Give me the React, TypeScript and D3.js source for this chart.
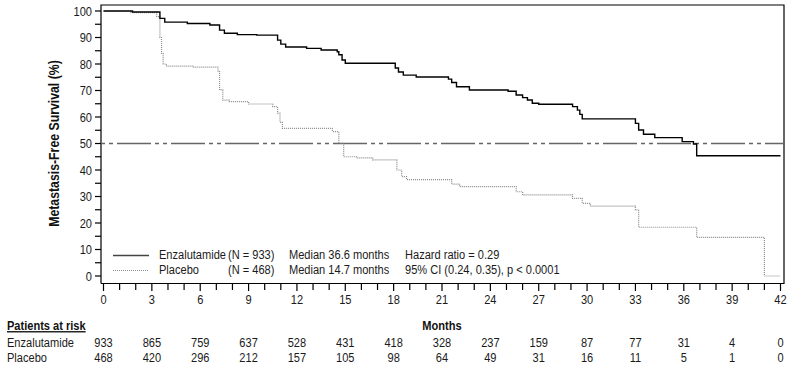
import { useEffect, useRef } from 'react';
import * as d3 from 'd3';

// Kaplan-Meier steps (months, % metastasis-free)
const enzaMonths = [0, 1.8, 3.5, 3.8, 5.2, 6.6, 7.2, 7.5, 8.3, 9.5, 10.8, 11.0, 11.3, 12.6, 13.5, 14.5, 14.6, 14.8, 15.0, 18.1, 18.3, 18.6, 19.4, 21.4, 21.6, 21.9, 22.7, 25.1, 25.6, 26.0, 26.3, 26.6, 27.0, 29.1, 29.4, 29.55, 29.7, 33.0, 33.2, 33.5, 34.2, 35.9, 36.6, 36.8, 42];
const enzaSurv = [100, 99.6, 97.2, 95.8, 95.3, 94.7, 92.8, 91.6, 91.1, 90.9, 89.0, 87.5, 86.4, 85.9, 85.3, 84.6, 83.5, 81.5, 80.3, 78.5, 77.0, 75.8, 75.1, 74.3, 73.0, 71.4, 70.2, 69.7, 68.3, 67.3, 66.4, 65.2, 64.8, 63.9, 62.6, 61.0, 59.3, 57.6, 55.1, 53.5, 52.2, 50.7, 49.8, 45.4, 45.4];

const placeboMonths = [0, 1.7, 3.3, 3.5, 3.6, 3.7, 3.9, 5.6, 7.1, 7.2, 7.4, 7.8, 9.0, 10.5, 10.8, 10.95, 11.1, 14.2, 14.6, 14.9, 15.7, 16.7, 18.2, 18.5, 18.8, 21.6, 22.1, 25.6, 26.0, 29.1, 29.7, 30.2, 33.0, 33.2, 36.8, 41.0, 42];
const placeboSurv = [100, 99.4, 97.9, 90.0, 84.0, 80.0, 79.2, 78.8, 77.1, 70.2, 66.4, 65.8, 64.9, 63.9, 61.5, 58.0, 55.7, 54.5, 50.1, 45.0, 44.6, 43.8, 40.0, 37.5, 36.4, 34.7, 33.7, 31.8, 30.6, 29.3, 27.4, 26.4, 24.9, 18.4, 14.6, 0, 0];

const yTicks = [0, 10, 20, 30, 40, 50, 60, 70, 80, 90, 100];
const xLabelTicks = [0, 3, 6, 9, 12, 15, 18, 21, 24, 27, 30, 33, 36, 39, 42];

const riskEnza = [933, 865, 759, 637, 528, 431, 418, 328, 237, 159, 87, 77, 31, 4, 0];
const riskPlacebo = [468, 420, 296, 212, 157, 105, 98, 64, 49, 31, 16, 11, 5, 1, 0];

const legendRows = [
  { name: 'Enzalutamide', n: '(N = 933)', median: 'Median 36.6 months', stat: 'Hazard ratio = 0.29' },
  { name: 'Placebo', n: '(N = 468)', median: 'Median 14.7 months', stat: '95% CI (0.24, 0.35), p < 0.0001' },
];

// no narrow font installed: squeeze Arial-metric Liberation Sans horizontally
const FONT = "'Liberation Sans', Arial, sans-serif";
const SQUEEZE = 0.82;

type Sel = d3.Selection<SVGGElement, unknown, null, undefined>;

function txt(
  parent: Sel,
  x: number,
  y: number,
  s: string | number,
  opts: { size?: number; anchor?: string; bold?: boolean; rotate?: number; fill?: string; dy?: string } = {},
) {
  const { size = 13.5, anchor = 'start', bold = false, rotate = 0, fill = '#1a1a1a', dy = null } = opts as any;
  return parent
    .append('text')
    .attr('transform', `translate(${x},${y})${rotate ? ` rotate(${rotate})` : ''} scale(${SQUEEZE},1)`)
    .attr('text-anchor', anchor)
    .attr('font-size', `${size}px`)
    .attr('font-weight', bold ? 'bold' : 'normal')
    .attr('fill', fill)
    .attr('dy', dy)
    .text(s);
}

export default function App() {
  const svgRef = useRef<SVGSVGElement>(null);
  const width = 793;
  const height = 368;

  useEffect(() => {
    if (!svgRef.current) return;
    const svg = d3.select(svgRef.current);
    svg.selectAll('*').remove();

    const left = 101;
    const top = 5;
    const right = 784;
    const bottom = 283.5;

    const x = d3.scaleLinear().domain([0, 42]).range([103.5, 780.5]);
    const y = d3.scaleLinear().domain([0, 100]).range([276, 11]);

    const g = svg.append('g').attr('font-family', FONT) as unknown as Sel;

    // frame: top + right border, left + bottom axes
    g.append('path')
      .attr('d', `M${left},${bottom}V${top}H${right}V${bottom}H${left}`)
      .attr('fill', 'none')
      .attr('stroke', '#000')
      .attr('stroke-width', 1.2);

    // --- Y axis ---
    d3.range(0, 101, 5).forEach((v) => {
      g.append('line')
        .attr('x1', left - 6)
        .attr('x2', left)
        .attr('y1', y(v))
        .attr('y2', y(v))
        .attr('stroke', '#000')
        .attr('stroke-width', 1.2);
    });
    yTicks.forEach((d) => txt(g, 92, y(d), d, { anchor: 'end', dy: '0.35em' }));

    txt(g, 59, (60 + 227) / 2, 'Metastasis-Free Survival (%)', {
      size: 15,
      bold: true,
      anchor: 'middle',
      rotate: -90,
      fill: '#111',
    });

    // --- X axis ---
    d3.range(0, 43, 1).forEach((m) => {
      g.append('line')
        .attr('x1', x(m))
        .attr('x2', x(m))
        .attr('y1', bottom)
        .attr('y2', bottom + (m % 3 === 0 ? 7.5 : 6.5))
        .attr('stroke', '#000')
        .attr('stroke-width', 1.2);
    });
    xLabelTicks.forEach((d) => txt(g, x(d), 304, d, { anchor: 'middle' }));

    // --- 50% reference line ---
    g.append('line')
      .attr('x1', left)
      .attr('x2', right)
      .attr('y1', y(50))
      .attr('y2', y(50))
      .attr('stroke', '#666')
      .attr('stroke-width', 1.6)
      .attr('stroke-dasharray', '4,4,4,4,34,4');

    // --- KM curves ---
    const line = d3
      .line<[number, number]>()
      .x((d) => x(d[0]))
      .y((d) => y(d[1]))
      .curve(d3.curveStepAfter);

    const placeboPts = placeboMonths.map((m, i) => [m, placeboSurv[i]] as [number, number]);
    const enzaPts = enzaMonths.map((m, i) => [m, enzaSurv[i]] as [number, number]);

    g.append('path')
      .datum(placeboPts)
      .attr('d', line)
      .attr('fill', 'none')
      .attr('stroke', '#8a8a8a')
      .attr('stroke-width', 1.2)
      .attr('stroke-dasharray', '1,1');

    g.append('path')
      .datum(enzaPts)
      .attr('d', line)
      .attr('fill', 'none')
      .attr('stroke', '#000')
      .attr('stroke-width', 1.4);

    // --- Legend ---
    const legendBase = [259, 274];
    legendRows.forEach((row, i) => {
      const by = legendBase[i];
      g.append('line')
        .attr('x1', 113)
        .attr('x2', 149)
        .attr('y1', by - 3.5)
        .attr('y2', by - 3.5)
        .attr('stroke', i === 0 ? '#444' : '#8a8a8a')
        .attr('stroke-width', i === 0 ? 1.6 : 1.2)
        .attr('stroke-dasharray', i === 0 ? null : '1,1');
      txt(g, 159, by, row.name);
      txt(g, 228, by, row.n);
      txt(g, 289, by, row.median);
      txt(g, 405, by, row.stat);
    });

    // --- Patients at risk table ---
    txt(g, 7, 330, 'Patients at risk', { bold: true, fill: '#111' }).attr('text-decoration', 'underline');
    txt(g, x(21), 330, 'Months', { bold: true, anchor: 'middle', fill: '#111' });

    const riskRows: [string, number[], number][] = [
      ['Enzalutamide', riskEnza, 347],
      ['Placebo', riskPlacebo, 362],
    ];
    riskRows.forEach(([label, vals, by]) => {
      txt(g, 7, by, label);
      vals.forEach((v, i) => txt(g, x(xLabelTicks[i]), by, v, { anchor: 'middle' }));
    });
  }, []);

  return (
    <svg
      ref={svgRef}
      width={width}
      height={height}
      style={{ position: 'absolute', left: 0, top: 0, background: '#fff' }}
    />
  );
}
